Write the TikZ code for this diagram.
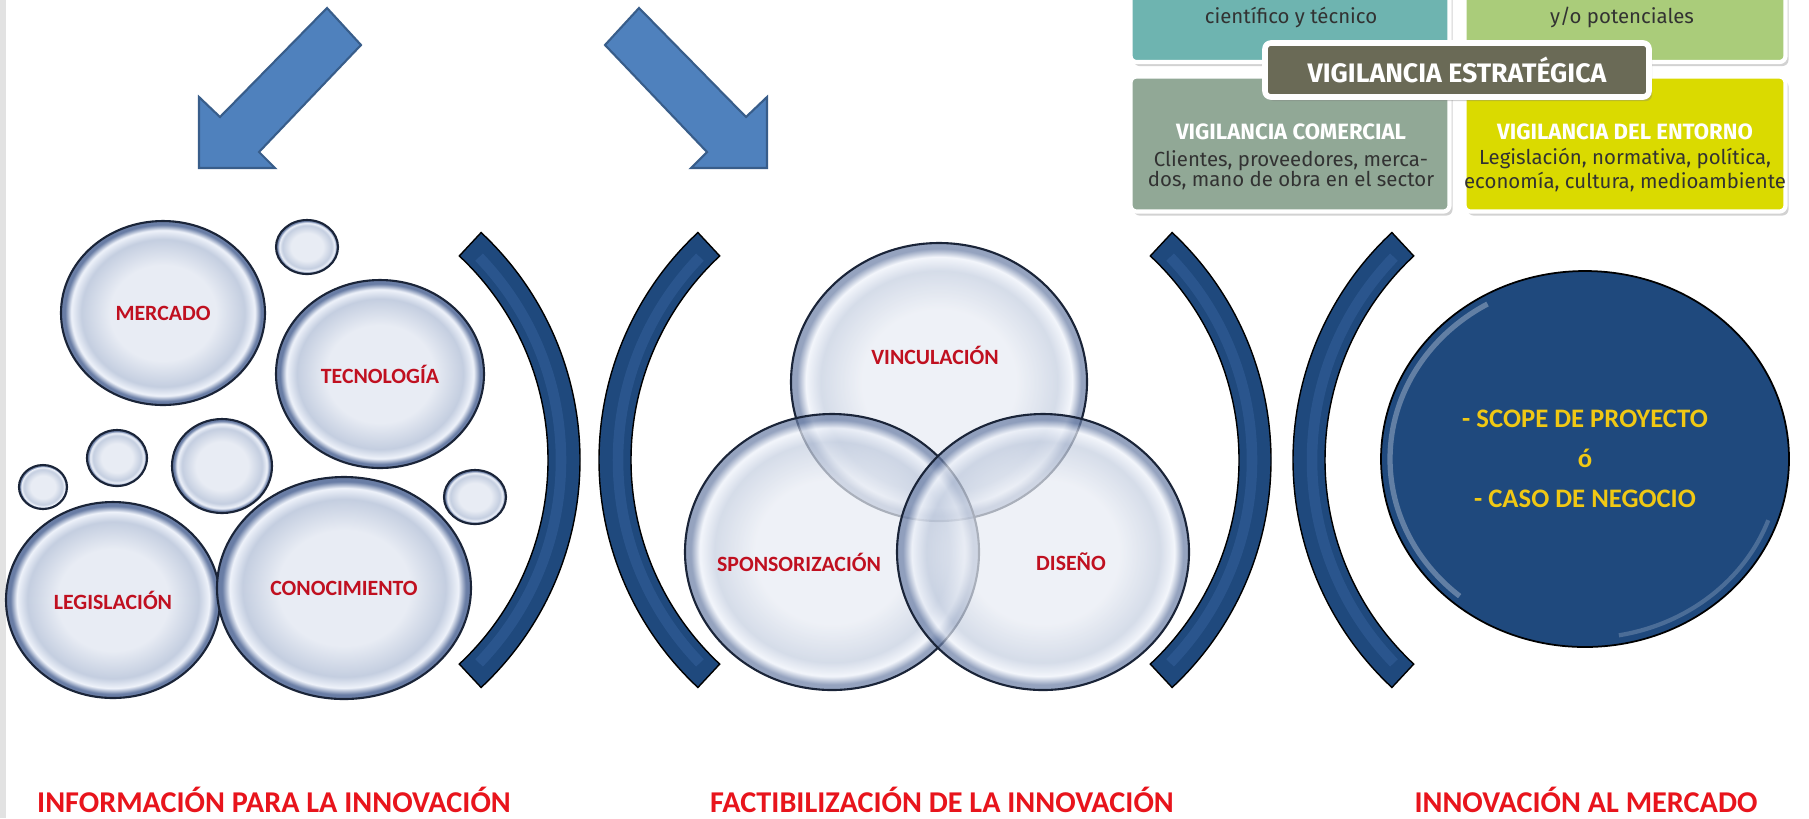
\documentclass[tikz,border=0pt]{standalone}
\usepackage{fontspec}
\setmainfont{Carlito}
\newfontfamily\vigfont{Fira Sans}
\usetikzlibrary{shapes.geometric, shadows}

\definecolor{bubin}{RGB}{232,236,244}
\definecolor{bubmid}{RGB}{196,206,224}
\definecolor{bubshine}{RGB}{238,242,250}
\definecolor{bubrim}{RGB}{105,125,165}
\definecolor{bubline}{RGB}{26,36,56}
\definecolor{navy}{RGB}{31,73,125}
\definecolor{navylight}{RGB}{70,115,180}
\definecolor{arrowfill}{RGB}{79,129,189}
\definecolor{arrowline}{RGB}{56,93,138}
\definecolor{labelred}{RGB}{192,16,32}
\definecolor{titlered}{RGB}{232,20,28}
\definecolor{gold}{RGB}{240,200,20}
\definecolor{tealbox}{RGB}{110,180,176}
\definecolor{greenbox}{RGB}{170,204,122}
\definecolor{bannerbox}{RGB}{106,106,86}
\definecolor{sagebox}{RGB}{145,168,150}
\definecolor{yellowbox}{RGB}{218,218,0}
\definecolor{bodygray}{RGB}{50,50,50}
\definecolor{stripgray}{RGB}{226,226,226}

\pgfdeclareradialshading{bubbleshade}{\pgfpoint{0bp}{0bp}}{color(0bp)=(bubin); color(13bp)=(bubin); color(20bp)=(bubmid); color(22.5bp)=(bubshine); color(24bp)=(bubrim); color(50bp)=(bubrim)}

\tikzset{
  bubble/.style 2 args={ellipse, shade, shading=bubbleshade, draw=bubline, line width=0.6pt,
    minimum width=#1*0.2mm, minimum height=#2*0.2mm, inner sep=0pt,
    text=labelred, font=\fontsize{6.2}{7}\selectfont\bfseries},
  venn/.style 2 args={bubble={#1}{#2}, fill opacity=0.7},
  bublabel/.style={text=labelred, font=\fontsize{6.2}{7}\selectfont\bfseries},
  bracket/.style={fill=navy, draw=black, line width=0.4pt},
  arrowbody/.style={fill=arrowfill, draw=arrowline, line width=0.6pt},
  vigbox/.style={rectangle, rounded corners=0.6mm, draw=white, line width=1.2pt, inner sep=0pt,
    drop shadow={shadow xshift=0.3mm, shadow yshift=-0.4mm, opacity=0.35}},
  vighead/.style={text=white, font=\vigfont\bfseries\fontsize{6.3}{7}\selectfont},
  vigbody/.style={text=bodygray, align=center, font=\vigfont\fontsize{5.8}{5.7}\selectfont},
  title/.style={anchor=base, text=titlered, font=\fontsize{8.6}{10}\selectfont\bfseries}
}

\begin{document}
\begin{tikzpicture}[x=0.1mm, y=-0.1mm]
  \useasboundingbox (0,0) rectangle (1809,818);
  \clip (0,0) rectangle (1809,818);
  \fill[white] (0,0) rectangle (1809,818);
  \fill[stripgray] (0,0) rectangle (6,818);

  % arrows
  \filldraw[arrowbody] (199,168) -- (199,97) -- (220,117) -- (327,8) -- (361,45) -- (259,152) -- (275,168) -- cycle;
  \filldraw[arrowbody] (767,168) -- (767,97) -- (746,117) -- (639,8) -- (605,45) -- (707,152) -- (691,168) -- cycle;

  % brackets
  \foreach \cx/\a in {269/0, 910/180, 960/0, 1604/180}{
    \filldraw[bracket, shift={(\cx,460)}] (\a-47:311) arc[start angle=\a-47, end angle=\a+47, radius=311]
      -- (\a+47:279) arc[start angle=\a+47, end angle=\a-47, radius=279] -- cycle;
    \draw[navylight, line width=3pt, opacity=0.3, shift={(\cx,460)}] (\a-44:292) arc[start angle=\a-44, end angle=\a+44, radius=292];
  }

  % information bubbles
  \node[bubble={31}{27}] (dot1) at (307,247) {};
  \node[bubble={30}{28}] (dot2) at (117,458) {};
  \node[bubble={50}{47}] (dot3) at (222,466) {};
  \node[bubble={24}{22}] (dot4) at (43,487) {};
  \node[bubble={31}{27}] (dot5) at (475,497) {};
  \node[bubble={102}{92}] (mercado) at (163,313) {MERCADO};
  \node[bubble={104}{94}] (tecno) at (380,374) {TECNOLOGÍA};
  \node[bubble={107}{98}] (legis) at (113,600) {LEGISLACIÓN};
  \node[bubble={127}{111}] (conoc) at (344,588) {CONOCIMIENTO};

  % venn
  \node[venn={148}{139}] (vinc) at (939,382) {};
  \node[venn={147}{138}] (spons) at (832,552) {};
  \node[venn={146}{138}] (dise) at (1043,552) {};
  \node[bublabel] (vinclab) at (935,355) {VINCULACIÓN};
  \node[bublabel] (sponslab) at (799,562) {SPONSORIZACIÓN};
  \node[bublabel] (diselab) at (1071,562) {DISEÑO};

  % market
  \node[ellipse, fill=navy, draw=black, line width=0.5pt, minimum width=40.8mm, minimum height=37.6mm] (caso) at (1585,459) {};
  \draw[white, opacity=0.3, line width=1.5pt] ([shift={(130:195 and 179)}]caso.center) arc[start angle=130, end angle=240, x radius=195, y radius=179];
  \draw[white, opacity=0.2, line width=1.2pt] ([shift={(20:195 and 179)}]caso.center) arc[start angle=20, end angle=80, x radius=195, y radius=179];
  \node[text=gold, align=center, font=\fontsize{7.6}{11.4}\selectfont\bfseries] (casotxt) at (caso.center) {- SCOPE DE PROYECTO\\ó\\- CASO DE NEGOCIO};

  % vigilancia
  \node[vigbox, fill=tealbox, minimum width=31.9mm, minimum height=16.2mm] (cient) at (1290,-19) {};
  \node[vigbox, fill=greenbox, minimum width=32.1mm, minimum height=16.2mm] (compet) at (1625,-19) {};
  \node[vigbox, fill=sagebox, minimum width=31.9mm, minimum height=13.5mm] (comer) at (1290,144) {};
  \node[vigbox, fill=yellowbox, minimum width=32.1mm, minimum height=13.5mm] (entor) at (1625,144) {};
  \node[vigbox, fill=bannerbox, line width=1.6pt, minimum width=38.4mm, minimum height=5.4mm, text=white,
    font=\vigfont\bfseries\fontsize{7.6}{9}\selectfont] (banner) at (1457,70) {VIGILANCIA ESTRATÉGICA};
  \node[vigbody] (cienttxt) at (1291,17) {científico y técnico};
  \node[vigbody] (competxt) at (1622,17) {y/o potenciales};
  \node[vighead] (comerhead) at (1291,132) {VIGILANCIA COMERCIAL};
  \node[vigbody] (comertxt) at (1291,170) {Clientes, proveedores, merca-\\dos, mano de obra en el sector};
  \node[vighead] (entorhead) at (1625,132) {VIGILANCIA DEL ENTORNO};
  \node[vigbody] (entortxt) at (1625,170) {Legislación, normativa, política,\\economía, cultura, medioambiente};

  % titles
  \node[title] (infotit) at (274,812) {INFORMACIÓN PARA LA INNOVACIÓN};
  \node[title] (facttit) at (942,812) {FACTIBILIZACIÓN DE LA INNOVACIÓN};
  \node[title] (merctit) at (1586,812) {INNOVACIÓN AL MERCADO};
\end{tikzpicture}
\end{document}
